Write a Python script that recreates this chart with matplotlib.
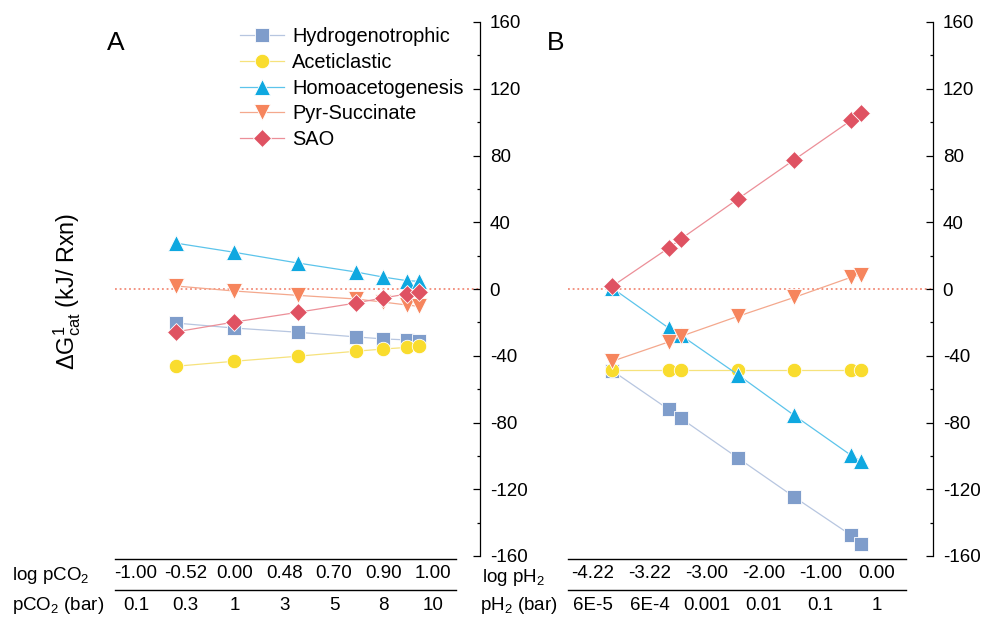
import matplotlib
matplotlib.use("Agg")
import matplotlib.pyplot as plt
from matplotlib.lines import Line2D

plt.rcParams['font.family'] = ['Liberation Sans', 'DejaVu Sans']
plt.rcParams['mathtext.fontset'] = 'custom'
plt.rcParams['mathtext.rm'] = 'Liberation Sans'
plt.rcParams['mathtext.it'] = 'Liberation Sans:italic'
plt.rcParams['axes.unicode_minus'] = False

# ---- data -------------------------------------------------------------
series = ["Hydrogenotrophic", "Aceticlastic", "Homoacetogenesis",
          "Pyr-Succinate", "SAO"]

# Panel A: dG vs log pCO2
log_pco2 = [-1.00, -0.52, 0.00, 0.48, 0.70, 0.90, 1.00]
a_hydro = [-20.4, -23.4, -25.9, -28.7, -29.9, -30.5, -31.1]
a_acet = [-46.3, -43.3, -40.3, -37.3, -36.0, -35.0, -34.3]
a_homo = [27.5, 22.0, 15.6, 10.2, 7.2, 5.0, 4.6]
a_pyr = [1.8, -1.2, -3.8, -6.0, -7.8, -9.6, -10.4]
a_sao = [-25.7, -19.8, -14.0, -8.4, -5.4, -3.0, -1.8]

# Panel B: dG vs log pH2
log_ph2 = [-4.22, -3.22, -3.00, -2.00, -1.00, 0.00, 0.18]
b_hydro = [-48.9, -72.2, -77.6, -101.2, -124.7, -147.5, -152.7]
b_acet = [-48.3, -48.3, -48.3, -48.3, -48.3, -48.3, -48.3]
b_homo = [0.6, -23.4, -27.8, -51.3, -75.8, -99.6, -103.2]
b_pyr = [-43.3, -31.7, -28.3, -16.4, -5.0, 7.0, 8.6]
b_sao = [1.6, 24.6, 30.1, 53.9, 77.5, 101.0, 105.4]

# Bottom conversion tables
co2_log_labels = ["-1.00", "-0.52", "0.00", "0.48", "0.70", "0.90", "1.00"]
co2_bar_labels = ["0.1", "0.3", "1", "3", "5", "8", "10"]
h2_log_labels = ["-4.22", "-3.22", "-3.00", "-2.00", "-1.00", "0.00"]
h2_bar_labels = ["6E-5", "6E-4", "0.001", "0.01", "0.1", "1"]

y_ticks = list(range(-160, 161, 40))

# ---- styles -----------------------------------------------------------
markers = ['s', 'o', '^', 'v', 'D']
msizes = [9.4, 10.4, 12.2, 12.2, 9.2]
face = ['#7F9DCB', '#F9DC2E', '#0FA8E0', '#F6855D', '#DF5262']
linec = ['#B7C6E0', '#F6E27C', '#5CC4EB', '#F4A88D', '#EC8F98']

W, H = 984, 618
fig = plt.figure(figsize=(W / 100, H / 100), dpi=100)

ax_bottom = 1 - 556 / H
ax_height = 534 / H
axA = fig.add_axes([115 / W, ax_bottom, 365 / W, ax_height])
axB = fig.add_axes([568 / W, ax_bottom, 365 / W, ax_height])


def style_axis(ax, xlim):
    ax.set_xlim(*xlim)
    ax.set_ylim(-160, 160)
    for side in ('left', 'top', 'bottom'):
        ax.spines[side].set_visible(False)
    ax.spines['right'].set_linewidth(0.9)
    ax.set_xticks([])
    ax.yaxis.tick_right()
    ax.set_yticks(y_ticks)
    ax.set_yticks(range(-140, 160, 40), minor=True)
    ax.tick_params(axis='y', which='major', direction='in', length=5,
                   width=0.9, pad=7, labelsize=13.5)
    ax.tick_params(axis='y', which='minor', direction='in', length=2.5,
                   width=0.9)
    ax.axhline(0, color='#F28B78', lw=1.3, ls=(0, (1, 1.6)), zorder=1)
    ax.patch.set_alpha(0)


style_axis(axA, (-1.5, 1.5))
style_axis(axB, (-5.0, 1.45))

dataA = [a_hydro, a_acet, a_homo, a_pyr, a_sao]
dataB = [b_hydro, b_acet, b_homo, b_pyr, b_sao]
for i, name in enumerate(series):
    kw = dict(marker=markers[i], ms=msizes[i], mfc=face[i], mec='white',
              mew=0.6, color=linec[i], lw=0.9, zorder=3 + i)
    axA.plot(log_pco2, dataA[i], label=name, **kw)
    axB.plot(log_ph2, dataB[i], **kw)

axA.legend(loc='upper left', bbox_to_anchor=(240 / W, 1 - 27 / H),
           bbox_transform=fig.transFigure, frameon=False, fontsize=14.4,
           borderpad=0, borderaxespad=0, handlelength=2.2,
           handletextpad=0.42, labelspacing=0.34)

# panel letters and y label
fig.text(107 / W, 1 - 50 / H, 'A', fontsize=19, va='baseline')
fig.text(547 / W, 1 - 50 / H, 'B', fontsize=19, va='baseline')
fig.text(67 / W, 1 - 291 / H,
         r'$\Delta$G$\mathregular{^{1}_{cat}}$ (kJ/ Rxn)',
         rotation=90, ha='center', va='center', fontsize=16.8)

# conversion tables under each panel
row1_y, row2_y = 574, 605
for x0, x1 in [(115, 456), (568, 906)]:
    for yl in (559, 590):
        fig.add_artist(Line2D([x0 / W, x1 / W], [1 - yl / H, 1 - yl / H],
                              transform=fig.transFigure, color='black',
                              lw=1.0))

fig.text(12 / W, 1 - 576 / H, r'log pCO$\mathregular{_2}$', fontsize=13.5,
         ha='left', va='center')
fig.text(12 / W, 1 - row2_y / H, r'pCO$\mathregular{_2}$ (bar)', fontsize=13.5,
         ha='left', va='center')
fig.text(482 / W, 1 - 577 / H, r'log pH$\mathregular{_2}$', fontsize=13.5,
         ha='left', va='center')
fig.text(480 / W, 1 - row2_y / H, r'pH$\mathregular{_2}$ (bar)', fontsize=13.5,
         ha='left', va='center')

for i, (t1, t2) in enumerate(zip(co2_log_labels, co2_bar_labels)):
    xc = (136 + 49.5 * i) / W
    fig.text(xc, 1 - row1_y / H, t1, fontsize=13.5, ha='center', va='center')
    fig.text(xc, 1 - row2_y / H, t2, fontsize=13.5, ha='center', va='center')

for i, (t1, t2) in enumerate(zip(h2_log_labels, h2_bar_labels)):
    xc = (593 + 56.8 * i) / W
    fig.text(xc, 1 - row1_y / H, t1, fontsize=13.5, ha='center', va='center')
    fig.text(xc, 1 - row2_y / H, t2, fontsize=13.5, ha='center', va='center')

fig.savefig('out.png', dpi=100, facecolor='white')
